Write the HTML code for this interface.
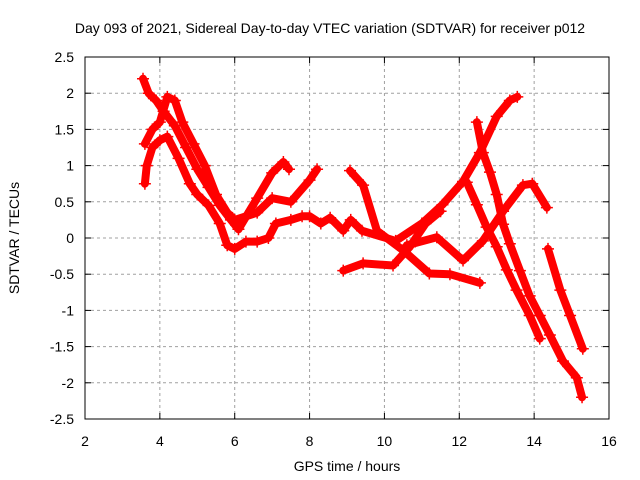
<!DOCTYPE html>
<html><head><meta charset="utf-8"><style>
body{margin:0;background:#fff}
svg{display:block;font-family:"Liberation Sans",sans-serif;font-size:14px}
</style></head><body>
<svg id="chart" width="640" height="480">
<text x="330" y="33" text-anchor="middle">Day 093 of 2021, Sidereal Day-to-day VTEC variation (SDTVAR) for receiver p012</text>
<text x="347" y="471" text-anchor="middle">GPS time / hours</text>
<text transform="translate(19,238) rotate(-90)" text-anchor="middle">SDTVAR / TECUs</text>
<g id="grid"></g><g id="marks"></g>
<rect x="85" y="57" width="524" height="362" fill="none" stroke="#000"/>
</svg>
<script>
const xTicks=[2,4,6,8,10,12,14,16];
const yTicks=[2.5,2,1.5,1,0.5,0,-0.5,-1,-1.5,-2,-2.5];
const track1=[[3.55,2.2],[3.7,2.0],[3.9,1.9],[4.1,1.75],[4.4,1.55],[4.7,1.25],[5.0,0.95],[5.3,0.7],[5.6,0.45],[5.9,0.25],[6.1,0.12],[6.6,0.55],[7.0,0.9],[7.3,1.05],[7.45,0.95]];
const track2=[[3.6,1.3],[3.8,1.5],[4.0,1.6],[4.2,1.95],[4.4,1.9],[4.6,1.6],[4.9,1.3],[5.2,1.0],[5.5,0.6],[5.8,0.35],[6.0,0.25],[6.3,0.3],[6.6,0.35],[7.0,0.55],[7.5,0.5],[8.0,0.8],[8.2,0.95]];
const track3=[[3.6,0.75],[3.65,1.0],[3.8,1.25],[4.0,1.35],[4.2,1.4],[4.5,1.1],[4.8,0.75],[5.0,0.6],[5.3,0.45],[5.6,0.2],[5.8,-0.1],[6.0,-0.15],[6.3,-0.05],[6.6,-0.05],[6.9,0.0],[7.1,0.2],[7.5,0.25],[7.8,0.3],[8.0,0.3],[8.3,0.2],[8.55,0.28],[8.9,0.1],[9.1,0.25],[9.4,0.1],[10.3,-0.04],[11.0,0.2],[11.55,0.46],[12.1,0.78],[12.55,1.18],[13.0,1.68],[13.35,1.9],[13.55,1.95]];
const track4=[[9.08,0.93],[9.43,0.73],[9.8,0.1],[10.5,-0.17],[11.2,-0.49],[11.75,-0.5],[12.55,-0.62]];
const track5=[[8.9,-0.45],[9.43,-0.35],[10.23,-0.38],[10.68,-0.12],[11.1,0.2],[11.5,0.37]];
const track6=[[12.47,1.6],[12.63,1.18],[12.82,0.91],[13.0,0.6],[13.17,0.19],[13.35,-0.08],[13.62,-0.45],[13.88,-0.8],[14.15,-1.07],[14.42,-1.34],[14.77,-1.7],[15.14,-1.93],[15.28,-2.2]];
const track7=[[12.2,0.77],[12.47,0.46],[12.73,0.15],[13.0,-0.12],[13.27,-0.44],[13.53,-0.72],[13.88,-1.07],[14.15,-1.39]];
const track8=[[10.6,-0.1],[11.4,0.01],[12.1,-0.31],[12.63,-0.04],[13.17,0.37],[13.7,0.73],[13.95,0.75],[14.34,0.42]];
const track9=[[14.37,-0.15],[14.7,-0.72],[14.96,-1.07],[15.3,-1.53]];
const tracks=[track1,track2,track3,track4,track5,track6,track7,track8,track9];
const NS='http://www.w3.org/2000/svg';
const X=t=>85+(t-2)*(524/14);
const Y=v=>57+(2.5-v)*72.4;
const grid=document.getElementById('grid'),marks=document.getElementById('marks');
function mk(tag,attrs,parent){const e=document.createElementNS(NS,tag);for(const k in attrs)e.setAttribute(k,attrs[k]);parent.appendChild(e);return e;}
xTicks.forEach(t=>{
  if(t>2&&t<16){const g=mk('line',{x1:X(t),x2:X(t),y1:57,y2:419,stroke:'#a0a0a0','stroke-dasharray':'3,3'},grid);
  
  }
  mk('line',{x1:X(t),x2:X(t),y1:419,y2:413,stroke:'#000'},grid);
  mk('line',{x1:X(t),x2:X(t),y1:57,y2:63,stroke:'#000'},grid);
  const l=mk('text',{x:X(t),y:446,'text-anchor':'middle'},grid);l.textContent=t;
  
  
});
yTicks.forEach(v=>{
  if(v<2.5&&v>-2.5){const g=mk('line',{x1:85,x2:609,y1:Y(v),y2:Y(v),stroke:'#a0a0a0','stroke-dasharray':'3,3'},grid);
  
  }
  mk('line',{x1:85,x2:91,y1:Y(v),y2:Y(v),stroke:'#000'},grid);
  mk('line',{x1:609,x2:603,y1:Y(v),y2:Y(v),stroke:'#000'},grid);
  const l=mk('text',{x:74,y:Y(v)+5,'text-anchor':'end'},grid);l.textContent=v;
  
  
});
tracks.forEach((tr,i)=>{
  const p=mk('polyline',{points:tr.map(d=>X(d[0])+','+Y(d[1])).join(' '),fill:'none',stroke:'#f00','stroke-width':8,'stroke-linejoin':'round','stroke-linecap':'round'},marks);
  
  
  tr.forEach(d=>{
    const x=X(d[0]),y=Y(d[1]);
    const m=mk('path',{d:`M${x-6},${y}H${x+6}M${x},${y-6}V${y+6}`,stroke:'#f00','stroke-width':1.5},marks);
    
    
  });
});
</script>
</body></html>
